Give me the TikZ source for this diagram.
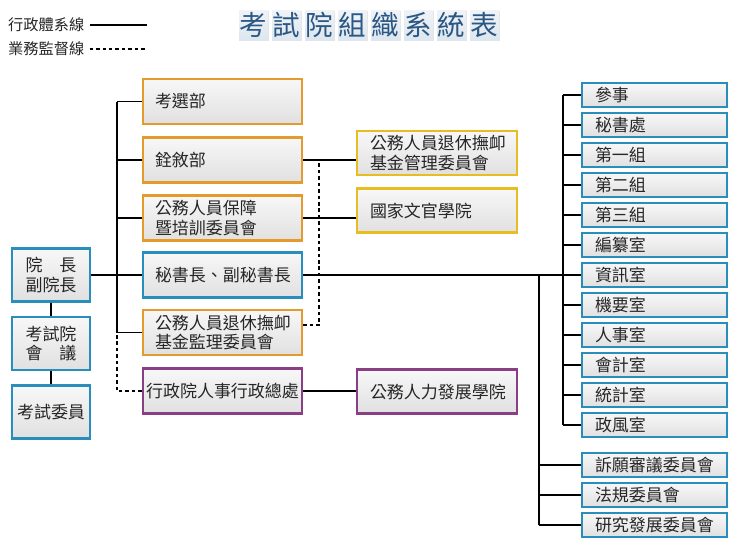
\documentclass[tikz,border=0pt]{standalone}
\usepackage{fontspec}
\usepackage{tikz}
\usetikzlibrary{positioning,calc,shadows}
\newfontfamily\tcfont{Noto Sans CJK TC}
\definecolor{bluebd}{HTML}{2A8EBD}
\definecolor{orangebd}{HTML}{E39B2D}
\definecolor{goldbd}{HTML}{E8BD22}
\definecolor{purplebd}{HTML}{8A3F84}
\definecolor{titleink}{HTML}{2B5784}
\definecolor{titlebg}{HTML}{DDE6EE}
\definecolor{ink}{HTML}{262626}

\begin{document}
\begin{tikzpicture}[
    x=0.03cm, y=-0.03cm,
    box/.style={draw, line width=2pt, top color=black!3, bottom color=black!12, inner sep=0pt, text=ink, font=\tcfont\fontsize{14.5pt}{16.5pt}\selectfont},
    headbox/.style={box, draw=bluebd, minimum width=2.34cm, minimum height=1.59cm, align=center},
    midbox/.style={box, minimum height=1.35cm, text width=4.05cm, inner xsep=0.36cm, align=left},
    sidebox/.style={box, minimum height=1.32cm, text width=4.02cm, inner xsep=0.39cm, align=left},
    unitbox/.style={box, draw=bluebd, minimum height=0.72cm, text width=3.57cm, inner xsep=0.39cm, align=left},
    titlechar/.style={top color=white!55!titlebg, bottom color=titlebg, minimum width=0.87cm, minimum height=0.9cm, inner sep=0pt, text=titleink, font=\tcfont\fontsize{23.5pt}{23.5pt}\selectfont, drop shadow={shadow xshift=0.8pt, shadow yshift=-0.8pt, opacity=0.2}},
    legtext/.style={inner sep=0pt, text=ink, font=\tcfont\fontsize{13pt}{13pt}\selectfont},
    solidln/.style={line width=1.1pt},
    dashln/.style={line width=0.9pt, dash pattern=on 3pt off 2.5pt}
]
    \useasboundingbox[fill=white] (0,0) rectangle (740,551);

    % legend and title
    \node[legtext, anchor=west] (legadmin) at (8,25) {行政體系線};
    \node[legtext, anchor=west] (legsuper) at (8,48.5) {業務監督線};
    \coordinate (legadminend) at (147,25);
    \coordinate (legsuperend) at (147,49);
    \draw[solidln, shorten <=0.15cm] (legadmin.east) -- (legadminend);
    \draw[dashln, shorten <=0.15cm] (legsuper.east |- legsuperend) -- (legsuperend);
    \foreach \ch [count=\i from 0] in {考,試,院,組,織,系,統,表}
        \node[titlechar] (title\i) at (253.5+33*\i,25) {\ch};

    % head of the council
    \node[headbox] (pres) at (51,275) {院\quad 長\\副院長};
    \node[headbox] (council) at (51,343.5) {考試院\\會\quad 議};
    \node[headbox] (members) at (51,412) {考試委員};
    \draw[solidln] (pres) -- (council);
    \draw[solidln] (council) -- (members);

    % ministries and commissions
    \node[midbox, draw=orangebd] (exam) at (222.5,101.5) {考選部};
    \node[midbox, draw=orangebd] (minis) at (222.5,160) {銓敘部};
    \node[midbox, draw=orangebd] (protect) at (222.5,218) {公務人員保障\\暨培訓委員會};
    \node[midbox, draw=bluebd] (secgen) at (222.5,275) {秘書長、副秘書長};
    \node[midbox, draw=orangebd] (superv) at (222.5,332.5) {公務人員退休撫卹\\基金監理委員會};
    \node[midbox, draw=purplebd, text width=4.59cm, inner xsep=0.09cm, align=center] (dgpa) at (222.5,391) {行政院人事行政總處};

    \node[sidebox, draw=goldbd] (fundmgmt) at (437,153) {公務人員退休撫卹\\基金管理委員會};
    \node[sidebox, draw=goldbd] (academy) at (437,210.5) {國家文官學院};
    \node[sidebox, draw=purplebd] (hrdi) at (437,391.5) {公務人力發展學院};

    \coordinate (trunk) at (117,0);
    \draw[solidln] (exam.west -| trunk) -- (superv.west -| trunk);
    \foreach \n in {exam,minis,protect,superv}
        \draw[solidln] (\n.west) -- (\n.west -| trunk);
    \draw[solidln] (pres.east) -- (secgen.west);
    \draw[solidln] (minis.east) -- (minis.east -| fundmgmt.west);
    \draw[solidln] (protect.east) -- (protect.east -| academy.west);
    \draw[solidln] (dgpa.east) -- (dgpa.east -| hrdi.west);

    % supervision lines
    \coordinate (dashx) at (319,0);
    \coordinate (svtap) at ($(superv.east)+(0,-7.5)$);
    \draw[dashln] (dgpa.west) -- (dgpa.west -| trunk) -- (superv.west -| trunk);
    \draw[dashln] (svtap) -- (svtap -| dashx) -- (minis.east -| dashx);

    % internal units
    \foreach \unit [count=\k from 0] in {參事,秘書處,第一組,第二組,第三組,編纂室,資訊室,機要室,人事室,會計室,統計室,政風室}
        \node[unitbox] (u\k) at (654.5,95+30*\k) {\unit};
    \foreach \unit [count=\k from 0] in {訴願審議委員會,法規委員會,研究發展委員會}
        \node[unitbox] (c\k) at (654.5,465+30*\k) {\unit};

    \coordinate (inner) at (563,0);
    \coordinate (outer) at (539,0);
    \draw[solidln] (secgen.east) -- (secgen.east -| inner);
    \draw[solidln] (u0.west -| inner) -- (u11.west -| inner);
    \foreach \k in {0,...,11}
        \draw[solidln] (u\k.west) -- (u\k.west -| inner);
    \draw[solidln] (secgen.east -| outer) -- (c2.west -| outer);
    \foreach \k in {0,1,2}
        \draw[solidln] (c\k.west) -- (c\k.west -| outer);
\end{tikzpicture}
\end{document}
